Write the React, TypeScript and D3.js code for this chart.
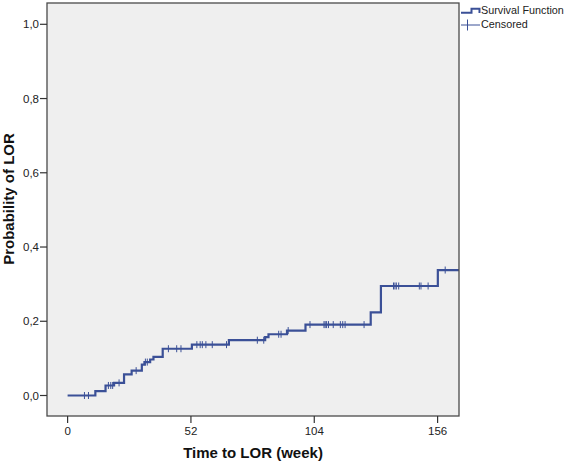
import React from "react";
import * as d3 from "d3";

const stepTimes = [0, 11.7, 16, 19.6, 23.8, 27, 31.3, 32.4, 34.8, 36.2, 40.1, 52.4, 68, 83.3, 84.7, 92.5, 100.3, 127.8, 132.1, 156.1, 165];
const stepValues = [0, 0.012, 0.027, 0.034, 0.057, 0.067, 0.083, 0.09, 0.097, 0.104, 0.126, 0.137, 0.149, 0.157, 0.165, 0.175, 0.191, 0.224, 0.295, 0.338, 0.338];
const censoredTimes = [7.1, 8.8, 17.2, 18.2, 19, 21.7, 28.9, 32.8, 33.6, 42.5, 46, 47.8, 54.5, 55.9, 56.8, 58.3, 61, 67, 80, 82.7, 89, 90, 93, 102.2, 108.1, 108.6, 109.2, 110, 112, 115, 116, 117, 125, 137.4, 138, 138.6, 139.6, 148.3, 149, 152, 159.2];
const xTicks = [0, 52, 104, 156];
const yTicks = [0, 0.2, 0.4, 0.6, 0.8, 1.0];
const legendLabels = ["Survival Function", "Censored"];

const W = 567;
const H = 464;
const plot = { left: 47, top: 3, right: 459, bottom: 416 };
const LINE = "#3b5097";
const FONT = "Arial, 'Liberation Sans', sans-serif";

export default function App() {
  const x = d3.scaleLinear().domain([0, 156]).range([67.6, 437.6]);
  const y = d3.scaleLinear().domain([0, 1]).range([395.5, 24.3]);
  const pts: [number, number][] = stepTimes.map((t, i) => [t, stepValues[i]]);
  const line = d3
    .line<[number, number]>()
    .x((d) => x(d[0]))
    .y((d) => y(d[1]))
    .curve(d3.curveStepAfter);
  const valueAt = (t: number) => {
    let v = 0;
    for (let i = 0; i < stepTimes.length; i++) if (stepTimes[i] <= t) v = stepValues[i];
    return v;
  };
  const fmt = (v: number) => v.toFixed(1).replace(".", ",");
  return (
    <svg width={W} height={H} style={{ position: "absolute", left: 0, top: 0, background: "#fff" }}>
      <defs>
        <clipPath id="pc">
          <rect x={plot.left} y={plot.top} width={plot.right - plot.left} height={plot.bottom - plot.top} />
        </clipPath>
      </defs>
      <rect x={plot.left} y={plot.top} width={plot.right - plot.left} height={plot.bottom - plot.top} fill="#efefef" />
      <g clipPath="url(#pc)">
        <path d={line(pts) || ""} fill="none" stroke={LINE} strokeWidth={2.2} />
        {censoredTimes.map((t, i) => (
          <line key={i} x1={x(t)} x2={x(t)} y1={y(valueAt(t)) - 3.5} y2={y(valueAt(t)) + 3.5} stroke={LINE} strokeWidth={1} />
        ))}
      </g>
      <rect x={plot.left} y={plot.top} width={plot.right - plot.left} height={plot.bottom - plot.top} fill="none" stroke="#4a4a4a" strokeWidth={1.3} />
      {yTicks.map((v) => (
        <g key={v}>
          <line x1={plot.left - 7} x2={plot.left} y1={y(v)} y2={y(v)} stroke="#333" strokeWidth={1.2} />
          <text x={plot.left - 8} y={y(v) + 4} textAnchor="end" fontFamily={FONT} fontSize={11.5} fill="#222">{fmt(v)}</text>
        </g>
      ))}
      {xTicks.map((v) => (
        <g key={v}>
          <line x1={x(v)} x2={x(v)} y1={plot.bottom} y2={plot.bottom + 7} stroke="#333" strokeWidth={1.2} />
          <text x={x(v)} y={435} textAnchor="middle" fontFamily={FONT} fontSize={11.5} fill="#222">{v}</text>
        </g>
      ))}
      <text x={253} y={457.5} textAnchor="middle" fontFamily={FONT} fontSize={15} fontWeight="bold" fill="#111">Time to LOR (week)</text>
      <text transform={`translate(13.5,199) rotate(-90)`} textAnchor="middle" fontFamily={FONT} fontSize={15} fontWeight="bold" fill="#111">Probability of LOR</text>
      <g>
        <path d="M461,12.7 H471.5 V8.8 H479.5 V13" fill="none" stroke={LINE} strokeWidth={2} />
        <text x={481} y={13.5} fontFamily={FONT} fontSize={10.8} fill="#222">{legendLabels[0]}</text>
        <line x1={461} x2={480} y1={25} y2={25} stroke={LINE} strokeWidth={1} />
        <line x1={467.5} x2={467.5} y1={19.5} y2={30.5} stroke={LINE} strokeWidth={1} />
        <text x={481} y={27.5} fontFamily={FONT} fontSize={10.8} fill="#222">{legendLabels[1]}</text>
      </g>
    </svg>
  );
}
